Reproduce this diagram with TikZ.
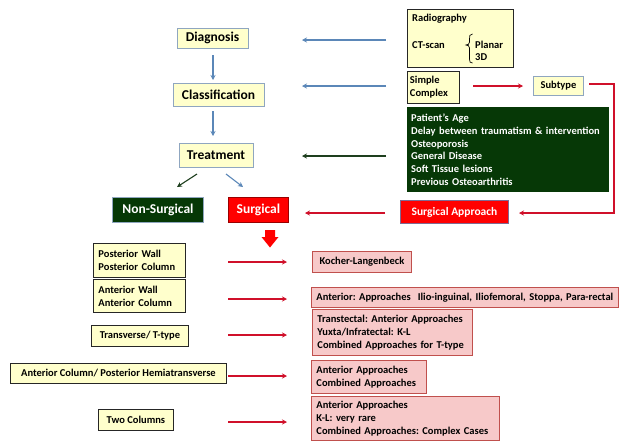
\documentclass[tikz,border=0pt]{standalone}
\usepackage{fontspec}
\setmainfont{Carlito}
\frenchspacing
\usetikzlibrary{arrows.meta}
\definecolor{yfill}{HTML}{FFFFCC}
\definecolor{bgrey}{HTML}{8FA6C0}
\definecolor{pfill}{HTML}{F7C9C9}
\definecolor{pdraw}{HTML}{C0504D}
\definecolor{dgreen}{HTML}{063806}
\definecolor{bluearr}{HTML}{5B87B8}
\definecolor{greenarr}{HTML}{1E3F1E}
\definecolor{redarr}{HTML}{D0102A}
\definecolor{redbox}{HTML}{FF0000}
\definecolor{violetgrey}{HTML}{7F6A93}
\tikzset{
  bigbox/.style={draw=bgrey, fill=yfill, line width=0.9pt, font=\bfseries\fontsize{13.5}{15}\selectfont, inner sep=0pt},
  ybox/.style={draw=black!85, fill=yfill, line width=0.9pt, anchor=north west, inner sep=0pt, font=\bfseries\fontsize{10.5}{12.8}\selectfont},
  pbox/.style={draw=pdraw, fill=pfill, line width=0.9pt, anchor=north west, inner sep=0pt, font=\bfseries\fontsize{10.5}{12.8}\selectfont},
  txt/.style={anchor=west, inner sep=0pt, font=\bfseries\fontsize{10.5}{12.8}\selectfont},
  barr/.style={draw=bluearr, line width=1.1pt, -{Stealth[length=5pt,width=5pt]}},
  garr/.style={draw=greenarr, line width=1.1pt, -{Stealth[length=5pt,width=5pt]}},
  rarr/.style={draw=redarr, line width=1.1pt, -{Stealth[length=5pt,width=5pt]}},
}
\begin{document}
\begin{tikzpicture}[x=1pt,y=-1pt]
\useasboundingbox[fill=white] (0,0) rectangle (623,440);
% left main column
\node[bigbox, minimum width=71pt, minimum height=20pt] (diag) at (212.5,38) {Diagnosis};
\node[bigbox, minimum width=91pt, minimum height=23pt] (class) at (218.5,94.5) {Classification};
\node[bigbox, minimum width=74pt, minimum height=24pt] (treat) at (216,155) {Treatment};
% right info boxes
\node[ybox, minimum width=106pt, minimum height=58pt] (rad) at (407,9) {};
\node[txt] (radt) at (412,19) {Radiography};
\node[txt] (ctt) at (412,45) {CT-scan};
\node[txt] (plt) at (475,45) {Planar};
\node[txt] (tdt) at (475,57) {3D};
\draw[line width=0.7pt] (472.5,34) .. controls (469.5,34) and (469.5,36) .. (469.5,39)
  -- (469.5,42) .. controls (469.5,44) and (468,45) .. (466,45)
  .. controls (468,45) and (469.5,46) .. (469.5,48) -- (469.5,59)
  .. controls (469.5,62) and (470,63) .. (472.5,63);
\node[ybox, minimum width=52pt, minimum height=32pt, text width=47pt, align=left, inner xsep=2.5pt] (simp) at (407,71) {Simple\\Complex};
\node[ybox, draw=bgrey, minimum width=50pt, minimum height=19pt] (subt) at (533,76) {\makebox[50pt]{Subtype}};
\node[draw=none, fill=dgreen, anchor=north west, minimum width=202pt, minimum height=85pt, text width=194pt, inner xsep=4pt, inner ysep=0pt, align=left, text=white, font=\bfseries\fontsize{10.5}{12.8}\selectfont] (green) at (407,107) {Patient's Age\\Delay between traumatism \& intervention\\Osteoporosis\\General Disease\\Soft Tissue lesions\\Previous Osteoarthritis};
% treatment outcomes
\node[draw=bgrey, fill=dgreen, text=white, anchor=north west, minimum width=91pt, minimum height=25pt, inner sep=0pt, line width=0.9pt, font=\bfseries\fontsize{13.5}{15}\selectfont] (nons) at (112,197) {Non-Surgical};
\node[draw=red!60!black, fill=redbox, text=white, anchor=north west, minimum width=60pt, minimum height=25pt, inner sep=0pt, line width=0.9pt, font=\bfseries\fontsize{13.5}{15}\selectfont] (surg) at (228,197) {Surgical};
\node[draw=violetgrey, fill=redbox, text=white, anchor=north west, minimum width=108pt, minimum height=23pt, inner sep=0pt, line width=0.9pt, font=\bfseries\fontsize{11.5}{13}\selectfont] (sapp) at (400,200) {Surgical Approach};
% fracture types
\node[ybox, minimum width=92pt, minimum height=34pt, text width=82pt, inner xsep=5pt, align=left] (pw) at (93,243) {Posterior Wall\\Posterior Column};
\node[ybox, minimum width=92pt, minimum height=33pt, text width=82pt, inner xsep=5pt, align=left] (aw) at (93,279) {Anterior Wall\\Anterior Column};
\node[ybox, minimum width=97pt, minimum height=21pt] (tt) at (91,325) {Transverse/ T-type};
\node[ybox, minimum width=216pt, minimum height=20pt] (ac) at (10,363) {Anterior Column/ Posterior Hemiatransverse};
\node[ybox, minimum width=75pt, minimum height=21pt] (tc) at (98,409) {Two Columns};
% approaches
\node[pbox, minimum width=99pt, minimum height=21pt] (kl) at (312,251) {Kocher-Langenbeck};
\node[pbox, minimum width=307pt, minimum height=20pt, text width=297pt, inner xsep=5pt, align=left] (ant) at (311,287) {Anterior: Approaches\ \ Ilio-inguinal, Iliofemoral, Stoppa, Para-rectal};
\node[pbox, minimum width=160pt, minimum height=46pt, text width=150pt, inner xsep=5pt, align=left] (trans) at (312,309) {Transtectal: Anterior Approaches\\Yuxta/Infratectal: K-L\\Combined Approaches for T-type};
\node[pbox, minimum width=115pt, minimum height=33pt, text width=105pt, inner xsep=5pt, align=left] (aa) at (311,360) {Anterior Approaches\\Combined Approaches};
\node[pbox, minimum width=188pt, minimum height=44pt, text width=178pt, inner xsep=5pt, align=left] (last) at (311,396) {Anterior Approaches\\K-L: very rare\\Combined Approaches: Complex Cases};
% coordinates for free arrow ends
\coordinate (r1a) at (386,40); \coordinate (r1b) at (302,40);
\coordinate (r2a) at (386,86); \coordinate (r2b) at (302,86);
\coordinate (r3a) at (386,156); \coordinate (r3b) at (302,156);
\coordinate (v1a) at (213,55); \coordinate (v1b) at (213,80);
\coordinate (v2a) at (213,111); \coordinate (v2b) at (213,136);
\coordinate (d1a) at (197,174); \coordinate (d1b) at (177,187);
\coordinate (d2a) at (226,174); \coordinate (d2b) at (243,187);
\coordinate (sa) at (473,86); \coordinate (sb) at (523,86);
\coordinate (ta) at (589,84); \coordinate (tb) at (614,84); \coordinate (tc2) at (614,213); \coordinate (td) at (519,213);
\coordinate (ua) at (385,213); \coordinate (ub) at (305,213);
% arrows
\draw[barr] (r1a) -- (r1b);
\draw[barr] (r2a) -- (r2b);
\draw[garr] (r3a) -- (r3b);
\draw[barr] (v1a) -- (v1b);
\draw[barr] (v2a) -- (v2b);
\draw[garr] (d1a) -- (d1b);
\draw[barr] (d2a) -- (d2b);
\draw[rarr] (sa) -- (sb);
\draw[rarr] (ta) -- (tb) -- (tc2) -- (td);
\draw[rarr] (ua) -- (ub);
% block arrow
\fill[redbox] (265,230) -- (275,230) -- (275,237) -- (278.5,237) -- (270,247.5) -- (261.5,237) -- (265,237) -- cycle;
% left-to-right arrows
\foreach \y [count=\i] in {262,299,335,376,422} {
  \coordinate (la\i) at (228,\y);
  \coordinate (lb\i) at (287,\y);
  \draw[rarr] (la\i) -- (lb\i);
}
\end{tikzpicture}
\end{document}
